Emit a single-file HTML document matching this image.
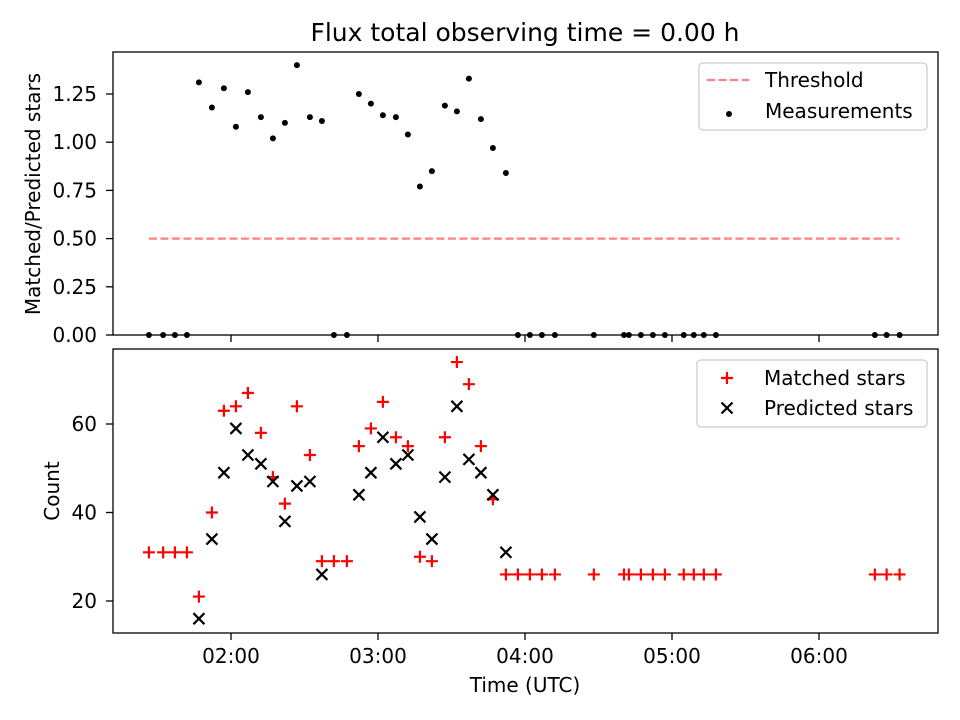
<!DOCTYPE html>
<html><head><meta charset="utf-8"><style>
body{margin:0;background:#fff}
svg{display:block;font-family:"DejaVu Sans","Liberation Sans",sans-serif}
</style></head><body>
<svg id="chart" width="960" height="720" viewBox="0 0 960 720"></svg>
<script>
// minutes after 00:00 UTC
const times=[86.5,92.3,97.1,102.0,106.9,112.2,117.1,122.0,126.9,132.2,137.1,142.0,146.9,152.2,157.1,162.0,167.3,172.2,177.1,182.0,187.3,192.2,197.1,202.0,207.3,212.2,217.1,222.0,226.9,232.2,237.1,242.0,246.9,252.2,268.1,280.4,282.4,287.3,292.2,297.1,304.8,308.9,313.0,317.9,382.8,387.6,392.9];
const ratio=[0,0,0,0,1.31,1.18,1.28,1.08,1.26,1.13,1.02,1.10,1.40,1.13,1.11,0,0,1.25,1.20,1.14,1.13,1.04,0.77,0.85,1.19,1.16,1.33,1.12,0.97,0.84,0,0,0,0,0,0,0,0,0,0,0,0,0,0,0,0,0];
const matched=[31,31,31,31,21,40,63,64,67,58,48,42,64,53,29,29,29,55,59,65,57,55,30,29,57,74,69,55,43,26,26,26,26,26,26,26,26,26,26,26,26,26,26,26,26,26,26];
const predicted=[null,null,null,null,16,34,49,59,53,51,47,38,46,47,26,null,null,44,49,57,51,53,39,34,48,64,52,49,44,31,null,null,null,null,null,null,null,null,null,null,null,null,null,null,null,null,null];
const threshold=0.5;
const xTicks=[120,180,240,300,360];
const xTickLabels=["02:00","03:00","04:00","05:00","06:00"];
const topTicks=[0,0.25,0.5,0.75,1.0,1.25];
const botTicks=[20,40,60];

const svg=document.getElementById('chart');
const NS='http://www.w3.org/2000/svg';
function mk(tag,attrs,parent){const e=document.createElementNS(NS,tag);for(const k in attrs)e.setAttribute(k,attrs[k]);(parent||svg).appendChild(e);return e;}
const L=113,R=938;
const xs=t=>231+(t-120)*147/60;
const T0=52,T1=335,B0=349,B1=633;
const yTop=v=>335-v*192.8;
const yBot=v=>601-(v-20)*177/40;
const FS=20;

function frame(y0,y1,name){
  const r=mk('rect',{x:L,y:y0,width:R-L,height:y1-y0,fill:'none',stroke:'#000','stroke-width':1.3});
  
  
}
[[T1,false],[B1,true]].forEach(([yb,lab])=>{
  xTicks.forEach((t,i)=>{
    const l=mk('line',{x1:xs(t),x2:xs(t),y1:yb,y2:yb+7,stroke:'#000','stroke-width':1.3});
    
    
    if(lab){const tx=mk('text',{x:xs(t),y:yb+30,'text-anchor':'middle','font-size':FS});tx.textContent=xTickLabels[i];
      
      }
  });
});
topTicks.forEach(v=>{
  const l=mk('line',{x1:L-7,x2:L,y1:yTop(v),y2:yTop(v),stroke:'#000','stroke-width':1.3});
  
  
  const tx=mk('text',{x:L-16,y:yTop(v)+7,'text-anchor':'end','font-size':FS});tx.textContent=v.toFixed(2);
  
  
});
botTicks.forEach(v=>{
  const l=mk('line',{x1:L-7,x2:L,y1:yBot(v),y2:yBot(v),stroke:'#000','stroke-width':1.3});
  
  
  const tx=mk('text',{x:L-16,y:yBot(v)+7,'text-anchor':'end','font-size':FS});tx.textContent=v;
  
  
});
const th=mk('line',{x1:xs(times[0]),x2:xs(times[times.length-1]),y1:yTop(threshold),y2:yTop(threshold),stroke:'#ff8080','stroke-width':2.2,'stroke-dasharray':'8,3.5'});


times.forEach((t,i)=>{
  const c=mk('circle',{cx:xs(t),cy:yTop(ratio[i]),r:3,fill:'#000'});
  
  
});
times.forEach((t,i)=>{
  const x=xs(t),y=yBot(matched[i]);
  const p=mk('path',{d:`M${x-6},${y}H${x+6}M${x},${y-6}V${y+6}`,stroke:'#f00','stroke-width':2.2});
  
  
});
times.forEach((t,i)=>{
  if(predicted[i]==null)return;
  const x=xs(t),y=yBot(predicted[i]);
  const p=mk('path',{d:`M${x-5.5},${y-5.5}L${x+5.5},${y+5.5}M${x-5.5},${y+5.5}L${x+5.5},${y-5.5}`,stroke:'#000','stroke-width':2.2});
  
  
});
frame(T0,T1,'top-axes');
frame(B0,B1,'bottom-axes');
function txt(s,attrs,name){const e=mk('text',attrs);e.textContent=s;return e;}
txt('Flux total observing time = 0.00 h',{x:525,y:41,'text-anchor':'middle','font-size':25},'chart-title');
txt('Time (UTC)',{x:525,y:692,'text-anchor':'middle','font-size':FS},'x-axis-title');
txt('Matched/Predicted stars',{x:0,y:0,'text-anchor':'middle','font-size':FS,transform:'translate(40,194) rotate(-90)'},'top-y-axis-title');
txt('Count',{x:0,y:0,'text-anchor':'middle','font-size':FS,transform:'translate(59,491) rotate(-90)'},'bottom-y-axis-title');
function legend(x,y,w,h,name){const r=mk('rect',{x,y,width:w,height:h,rx:4,fill:'#fff','fill-opacity':0.8,stroke:'#ccc','stroke-width':1.3});}
legend(699,63,228,67,'top-legend');
const ll=mk('line',{x1:707,x2:749,y1:80,y2:80,stroke:'#ff8080','stroke-width':2.2,'stroke-dasharray':'8,3.5'});


txt('Threshold',{x:765,y:87,'font-size':FS},'legend-threshold-label');
const lc=mk('circle',{cx:729,cy:114,r:3,fill:'#000'});


txt('Measurements',{x:765,y:118,'font-size':FS},'legend-measurements-label');
legend(697,360,230,67,'bottom-legend');
const lp=mk('path',{d:'M721,378H733M727,372V384',stroke:'#f00','stroke-width':2.2});


txt('Matched stars',{x:764,y:385,'font-size':FS},'legend-matched-label');
const lx=mk('path',{d:'M721.5,402.5L732.5,413.5M721.5,413.5L732.5,402.5',stroke:'#000','stroke-width':2.2});


txt('Predicted stars',{x:764,y:415,'font-size':FS},'legend-predicted-label');
</script>
</body></html>
